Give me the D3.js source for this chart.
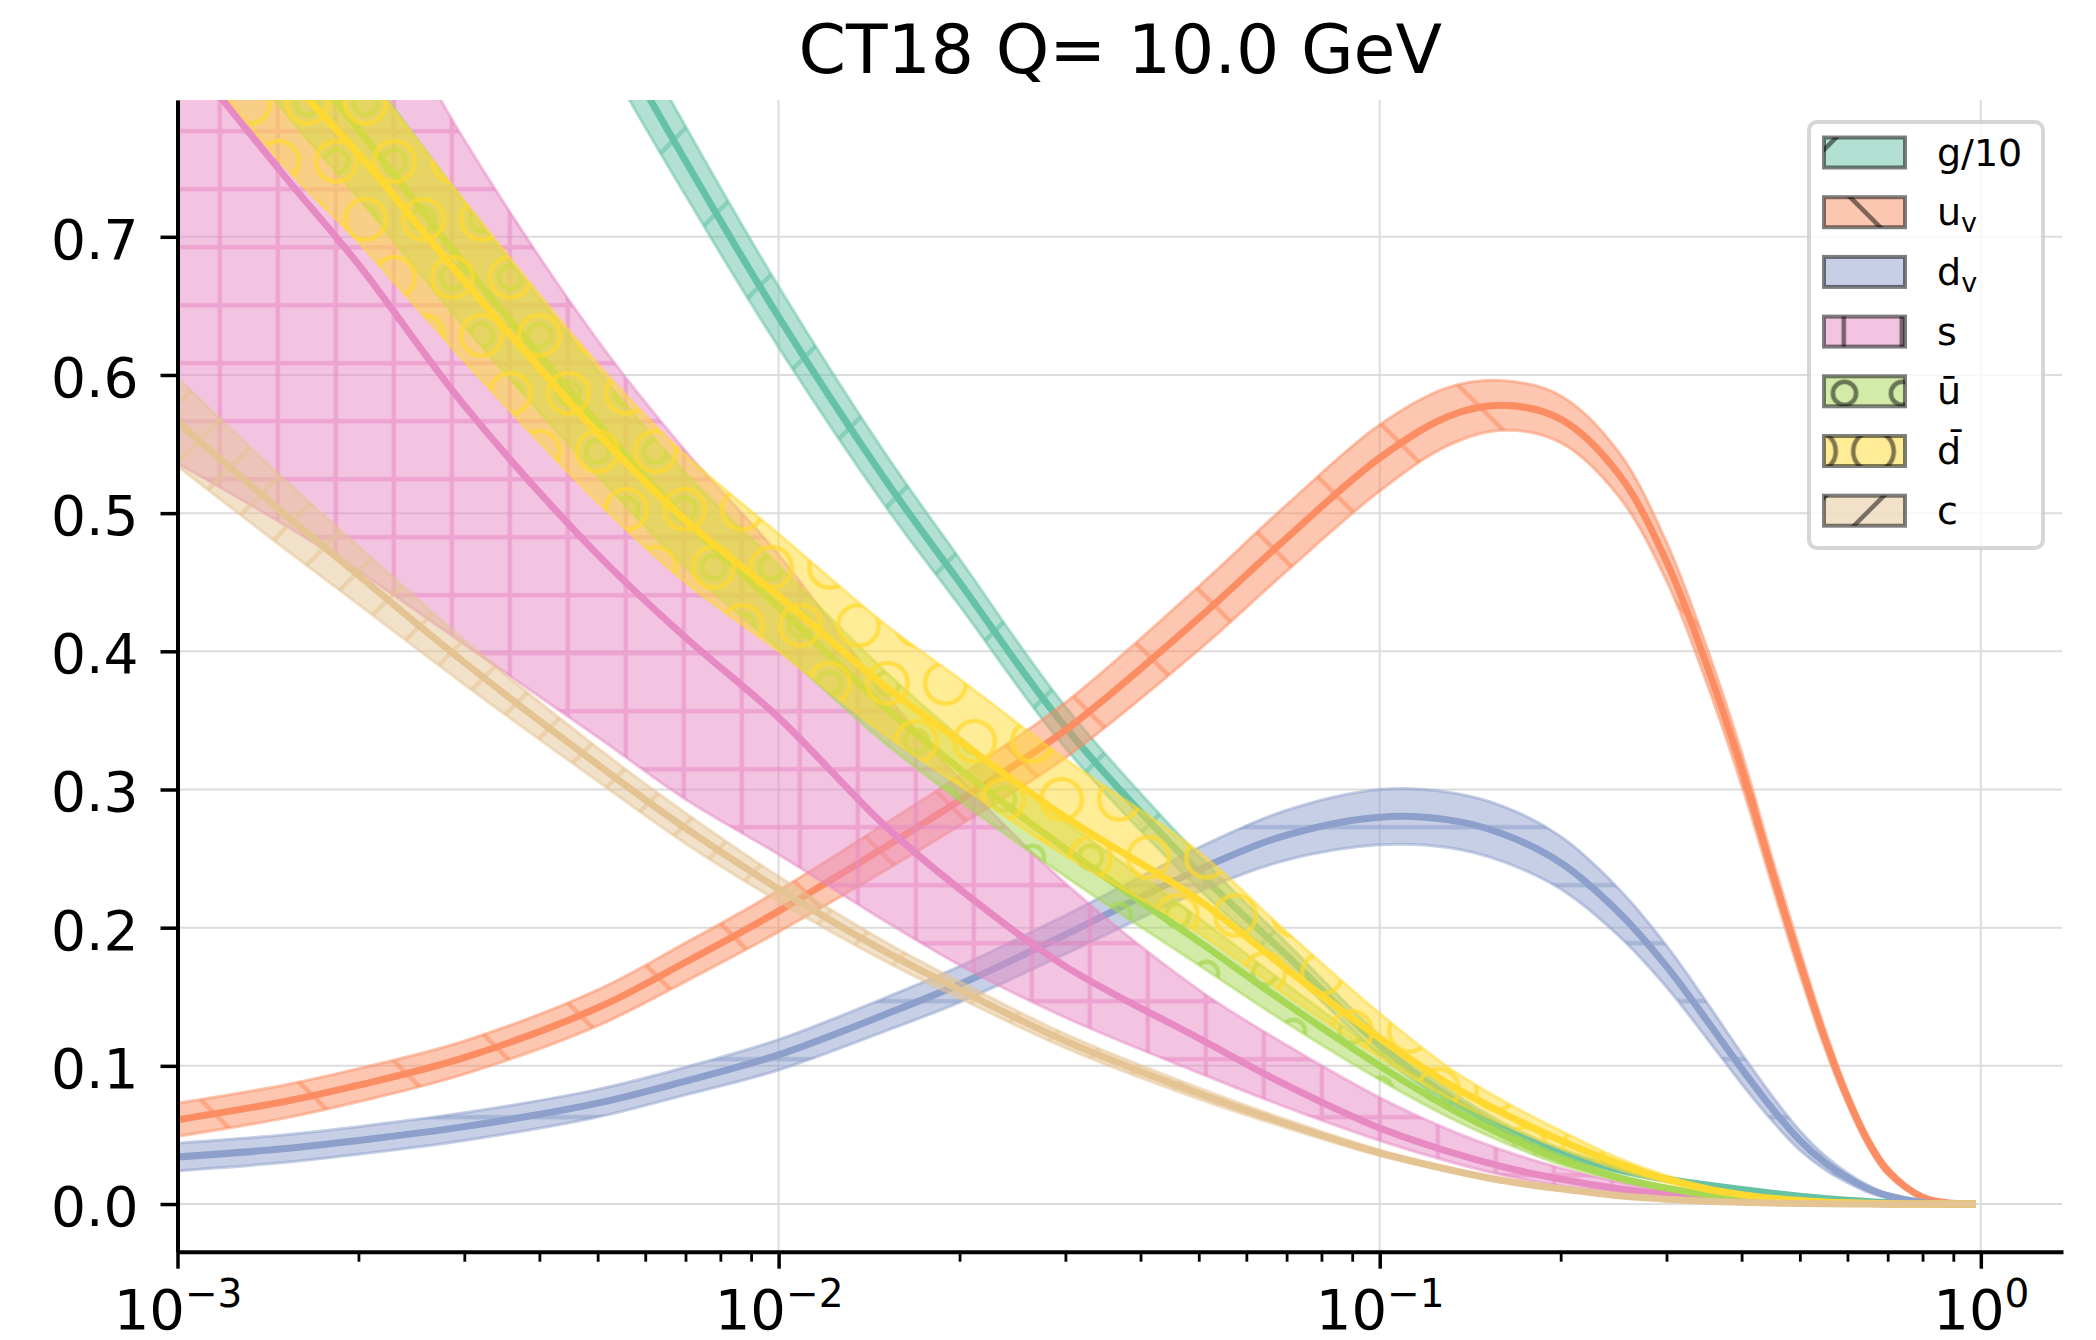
<!DOCTYPE html>
<html>
<head>
<meta charset="utf-8">
<script src="https://cdn.jsdelivr.net/npm/d3@7"></script>
<style>
  body { margin: 0; background: #ffffff; }
  text { font-family: 'DejaVu Sans', sans-serif; }
</style>
</head>
<body>
<div id="chart"></div>
<script>
// x grid shared by every curve
var xs = [0.001, 0.0015, 0.002, 0.003, 0.005, 0.007, 0.01, 0.015, 0.02, 0.03, 0.05, 0.07, 0.1, 0.13, 0.16,
          0.2, 0.25, 0.3, 0.35, 0.4, 0.45, 0.5, 0.55, 0.6, 0.65, 0.7, 0.8, 0.9, 0.98];

// g/10
var g10_mid = [1.43, 1.31, 1.228, 1.062, 0.868, 0.755, 0.642, 0.525, 0.45, 0.345, 0.24, 0.18, 0.115, 0.078, 0.055,
               0.037, 0.025, 0.018, 0.0138, 0.0105, 0.0078, 0.0057, 0.004, 0.0027, 0.0018, 0.0011, 0.0003, 0.00004, 0];
var g10_lo = [1.385, 1.27, 1.192, 1.03, 0.84, 0.73, 0.62, 0.506, 0.433, 0.33, 0.228, 0.171, 0.108, 0.073, 0.051,
              0.034, 0.023, 0.0165, 0.0128, 0.0097, 0.0072, 0.0052, 0.0036, 0.0024, 0.0016, 0.001, 0.0003, 0.00004, 0];
var g10_hi = [1.475, 1.35, 1.264, 1.094, 0.896, 0.78, 0.664, 0.544, 0.467, 0.36, 0.252, 0.189, 0.122, 0.083, 0.059,
              0.04, 0.027, 0.0195, 0.0148, 0.0113, 0.0084, 0.0062, 0.0044, 0.003, 0.002, 0.0012, 0.0003, 0.00004, 0];

// u valence
var uv_mid = [0.061, 0.074, 0.086, 0.106, 0.142, 0.175, 0.212, 0.258, 0.292, 0.343, 0.424, 0.482, 0.540, 0.570, 0.578,
              0.568, 0.528, 0.465, 0.39, 0.315, 0.24, 0.175, 0.12, 0.077, 0.045, 0.024, 0.005, 0.0005, 0];
var uv_lo = [0.049, 0.062, 0.074, 0.094, 0.129, 0.161, 0.197, 0.241, 0.274, 0.323, 0.401, 0.458, 0.516, 0.549, 0.56,
             0.551, 0.512, 0.451, 0.377, 0.303, 0.23, 0.166, 0.113, 0.072, 0.041, 0.021, 0.004, 0.0003, 0];
var uv_hi = [0.073, 0.086, 0.098, 0.118, 0.155, 0.189, 0.227, 0.275, 0.31, 0.363, 0.447, 0.506, 0.564, 0.591, 0.596,
             0.585, 0.544, 0.479, 0.403, 0.327, 0.25, 0.184, 0.127, 0.082, 0.049, 0.027, 0.006, 0.0007, 0];

// d valence
var dv_mid = [0.034, 0.040, 0.046, 0.056, 0.073, 0.089, 0.108, 0.137, 0.159, 0.195, 0.242, 0.267, 0.280, 0.278, 0.268,
              0.247, 0.211, 0.172, 0.133, 0.098, 0.069, 0.046, 0.03, 0.019, 0.011, 0.006, 0.0012, 0.0001, 0];
var dv_lo = [0.024, 0.03, 0.036, 0.046, 0.063, 0.079, 0.097, 0.125, 0.146, 0.181, 0.226, 0.249, 0.26, 0.258, 0.248,
             0.228, 0.194, 0.157, 0.12, 0.087, 0.06, 0.039, 0.025, 0.0155, 0.0085, 0.0045, 0.0007, 0, 0];
var dv_hi = [0.044, 0.05, 0.056, 0.066, 0.083, 0.099, 0.119, 0.149, 0.172, 0.209, 0.258, 0.285, 0.3, 0.298, 0.288,
             0.266, 0.228, 0.187, 0.146, 0.109, 0.078, 0.053, 0.035, 0.0225, 0.0135, 0.0075, 0.0017, 0.0002, 0];

// strange
var s_mid = [0.84, 0.745, 0.68, 0.578, 0.47, 0.41, 0.352, 0.274, 0.228, 0.172, 0.12, 0.086, 0.055, 0.038, 0.027,
             0.018, 0.011, 0.007, 0.0045, 0.003, 0.002, 0.0012, 0.0008, 0.0005, 0.0003, 0.0001, 0, 0, 0];
var s_lo = [0.536, 0.492, 0.458, 0.405, 0.338, 0.293, 0.253, 0.205, 0.173, 0.135, 0.095, 0.07, 0.046, 0.031, 0.021,
            0.013, 0.008, 0.005, 0.003, 0.002, 0.0013, 0.0008, 0.0005, 0.0003, 0.0002, 0.0001, 0, 0, 0];
var s_hi = [1.12, 0.99, 0.905, 0.77, 0.625, 0.545, 0.47, 0.37, 0.308, 0.232, 0.155, 0.115, 0.077, 0.054, 0.039,
            0.026, 0.016, 0.01, 0.0065, 0.0043, 0.003, 0.0018, 0.0012, 0.0007, 0.0004, 0.0002, 0.00005, 0, 0];

// u bar
var ubar_mid = [0.95, 0.845, 0.778, 0.68, 0.565, 0.495, 0.432, 0.36, 0.315, 0.257, 0.19, 0.145, 0.1, 0.07, 0.05,
                0.032, 0.019, 0.0115, 0.0068, 0.004, 0.0024, 0.0014, 0.0008, 0.0005, 0.0003, 0.00015, 0.00002, 0, 0];
var ubar_lo = [0.89, 0.791, 0.728, 0.635, 0.527, 0.461, 0.402, 0.334, 0.292, 0.237, 0.173, 0.131, 0.09, 0.063, 0.045,
               0.0285, 0.017, 0.0102, 0.006, 0.0035, 0.0021, 0.0012, 0.0007, 0.0005, 0.0003, 0.00015, 0.00002, 0, 0];
var ubar_hi = [1.01, 0.899, 0.828, 0.725, 0.603, 0.529, 0.462, 0.386, 0.338, 0.277, 0.207, 0.159, 0.11, 0.077, 0.055,
               0.0355, 0.021, 0.0128, 0.0076, 0.0045, 0.0027, 0.0016, 0.0009, 0.0005, 0.0003, 0.00015, 0.00002, 0, 0];

// d bar
var dbar_mid = [0.92, 0.82, 0.76, 0.668, 0.558, 0.495, 0.44, 0.375, 0.335, 0.28, 0.22, 0.17, 0.12, 0.087, 0.066,
                0.046, 0.029, 0.018, 0.011, 0.0068, 0.0042, 0.0025, 0.0015, 0.0009, 0.0005, 0.0002, 0.00003, 0, 0];
var dbar_lo = [0.845, 0.752, 0.696, 0.61, 0.508, 0.45, 0.4, 0.34, 0.303, 0.252, 0.196, 0.151, 0.106, 0.077, 0.058,
               0.04, 0.025, 0.0155, 0.0093, 0.0057, 0.0035, 0.0021, 0.0012, 0.0007, 0.0004, 0.0002, 0.00003, 0, 0];
var dbar_hi = [0.995, 0.888, 0.824, 0.726, 0.608, 0.542, 0.485, 0.42, 0.38, 0.322, 0.255, 0.197, 0.138, 0.099, 0.075,
               0.053, 0.033, 0.0205, 0.0127, 0.0079, 0.0049, 0.0029, 0.0018, 0.0011, 0.0006, 0.0002, 0.00003, 0, 0];

// charm
var c_mid = [0.566, 0.5, 0.455, 0.392, 0.318, 0.272, 0.228, 0.183, 0.155, 0.118, 0.08, 0.058, 0.037, 0.025, 0.017,
             0.011, 0.006, 0.0035, 0.002, 0.0012, 0.0007, 0.0004, 0.0002, 0.0001, 0, 0, 0, 0, 0];
var c_lo = [0.534, 0.475, 0.434, 0.376, 0.306, 0.261, 0.219, 0.176, 0.149, 0.113, 0.076, 0.055, 0.035, 0.0235, 0.016,
            0.0102, 0.0055, 0.0032, 0.0018, 0.0011, 0.0007, 0.0004, 0.0002, 0.0001, 0, 0, 0, 0, 0];
var c_hi = [0.598, 0.525, 0.476, 0.408, 0.33, 0.283, 0.237, 0.19, 0.161, 0.123, 0.084, 0.061, 0.039, 0.0265, 0.018,
            0.0118, 0.0065, 0.0038, 0.0022, 0.0013, 0.0007, 0.0004, 0.0002, 0.0001, 0, 0, 0, 0, 0];

var series_keys = ['g10', 'uv', 'dv', 's', 'ubar', 'dbar', 'c'];
var series_colors = ['#66c2a5', '#fc8d62', '#8da0cb', '#e78ac3', '#a6d854', '#ffd92f', '#e5c494'];
var series_hatches = ['ne', 'nw', 'h', 'plus', 'osmall', 'olarge', 'ne2'];

var x_ticks = [0.001, 0.01, 0.1, 1];
var x_exponents = ['\u22123', '\u22122', '\u22121', '0'];
var y_ticks = [0, 0.1, 0.2, 0.3, 0.4, 0.5, 0.6, 0.7];

var chart_width = 2096;
var chart_height = 1340;
var plot_left = 177.5, plot_right = 2063, plot_top = 100, plot_bottom = 1251.7;

var x_scale = d3.scaleLog()
                .domain([0.001, 1.37])
                .range([plot_left, plot_right]);

var y_scale = d3.scaleLinear()
                .domain([-0.0345, 0.799])
                .range([plot_bottom, plot_top]);

var svg = d3.select('#chart')
            .append('svg')
            .attr('width', chart_width)
            .attr('height', chart_height);

svg.append('rect')
   .attr('width', chart_width)
   .attr('height', chart_height)
   .attr('fill', '#ffffff');

var defs = svg.append('defs');

defs.append('clipPath')
    .attr('id', 'plot-clip')
    .append('rect')
    .attr('x', plot_left)
    .attr('y', plot_top)
    .attr('width', plot_right - plot_left)
    .attr('height', plot_bottom - plot_top);

// hatch patterns are tiled from the page origin, like matplotlib does
function makePattern(id, kind, color, opacity) {
  var p = defs.append('pattern')
              .attr('id', id)
              .attr('patternUnits', 'userSpaceOnUse');
  var sw = 4.5;
  var add = function(d) {
    p.append('path').attr('d', d)
     .attr('fill', 'none')
     .attr('stroke', color)
     .attr('stroke-opacity', opacity)
     .attr('stroke-width', sw);
  };
  if (kind === 'ne') {
    p.attr('width', 116).attr('height', 116);
    add('M-10,11.7L11.7,-10M-5,122.7L122.7,-5M110,123.7L123.7,110');
  } else if (kind === 'ne2') {
    p.attr('width', 58).attr('height', 58);
    add('M-10,11.7L11.7,-10M-5,64.7L64.7,-5M50,67.7L67.7,50');
  } else if (kind === 'nw') {
    p.attr('width', 116).attr('height', 116);
    add('M-10,77L39,126M19,-10L126,97');
  } else if (kind === 'h') {
    p.attr('width', 58).attr('height', 58).attr('y', 15.2 - 29);
    add('M-5,29L63,29');
  } else if (kind === 'plus') {
    p.attr('width', 58).attr('height', 58).attr('x', 45.8 - 29).attr('y', 15.2 - 29);
    add('M-5,29L63,29M29,-5L29,63');
  } else {
    var r = kind === 'osmall' ? 11.6 : 20.3;
    p.attr('width', 58).attr('height', 116).attr('x', 17.5).attr('y', 103.3);
    [[0, 0], [58, 0], [0, 116], [58, 116], [29, 58]].forEach(function(c) {
      p.append('circle')
       .attr('cx', c[0]).attr('cy', c[1]).attr('r', r)
       .attr('fill', 'none')
       .attr('stroke', color)
       .attr('stroke-opacity', opacity)
       .attr('stroke-width', sw);
    });
  }
}

series_keys.forEach(function(k, i) {
  var op = (series_hatches[i] === 'osmall' || series_hatches[i] === 'olarge') ? 0.75 : 0.55;
  makePattern('hatch-' + k, series_hatches[i], series_colors[i], op);
  makePattern('legend-hatch-' + k, series_hatches[i], '#000000', 0.5);
});

// Grid lines
var grid = svg.append('g');
grid.selectAll('.hgrid')
    .data(y_ticks)
    .enter()
    .append('line')
    .attr('x1', plot_left)
    .attr('x2', plot_right - 1)
    .attr('y1', function(d) { return y_scale(d); })
    .attr('y2', function(d) { return y_scale(d); })
    .attr('stroke', '#dcdcdc')
    .attr('stroke-width', 2);
grid.selectAll('.vgrid')
    .data(x_ticks)
    .enter()
    .append('line')
    .attr('x1', function(d) { return x_scale(d); })
    .attr('x2', function(d) { return x_scale(d); })
    .attr('y1', plot_top)
    .attr('y2', plot_bottom)
    .attr('stroke', '#dcdcdc')
    .attr('stroke-width', 2);

// Bands and central lines, one series after the other
var data_by_key = {
  g10: [g10_mid, g10_lo, g10_hi],
  uv: [uv_mid, uv_lo, uv_hi],
  dv: [dv_mid, dv_lo, dv_hi],
  s: [s_mid, s_lo, s_hi],
  ubar: [ubar_mid, ubar_lo, ubar_hi],
  dbar: [dbar_mid, dbar_lo, dbar_hi],
  c: [c_mid, c_lo, c_hi]
};

var plot = svg.append('g').attr('clip-path', 'url(#plot-clip)');

var curve = d3.curveCatmullRom.alpha(0.5);

var area = d3.area()
             .x(function(d) { return x_scale(d.x); })
             .y0(function(d) { return y_scale(d.lo); })
             .y1(function(d) { return y_scale(d.hi); })
             .curve(curve);

var line = d3.line()
             .x(function(d) { return x_scale(d.x); })
             .y(function(d) { return y_scale(d.mid); })
             .curve(curve);

series_keys.forEach(function(k, i) {
  var arr = data_by_key[k];
  var pts = xs.map(function(x, j) {
    return { x: x, mid: arr[0][j], lo: arr[1][j], hi: arr[2][j] };
  });
  var color = series_colors[i];
  plot.append('path')
      .attr('d', area(pts))
      .attr('fill', color)
      .attr('fill-opacity', 0.5);
  plot.append('path')
      .attr('d', area(pts))
      .attr('fill', 'url(#hatch-' + k + ')');
  plot.append('path')
      .attr('d', area(pts))
      .attr('fill', 'none')
      .attr('stroke', color)
      .attr('stroke-opacity', 0.5)
      .attr('stroke-width', 3);
  plot.append('path')
      .attr('d', line(pts))
      .attr('fill', 'none')
      .attr('stroke', color)
      .attr('stroke-width', 7);
});

// Axes
var y_axis = svg.append('g')
                .attr('transform', 'translate(' + plot_left + ',0)')
                .call(d3.axisLeft(y_scale)
                        .tickValues(y_ticks)
                        .tickSize(17)
                        .tickSizeOuter(0)
                        .tickPadding(22)
                        .tickFormat(d3.format('.1f')));
y_axis.select('.domain').attr('stroke-width', 4);
y_axis.selectAll('.tick line').attr('stroke-width', 3.5);
y_axis.selectAll('.tick text')
      .attr('dy', '0.39em')
      .style('font-size', '55px')
      .attr('fill', '#000');

var minor_ticks = [];
[0.001, 0.01, 0.1].forEach(function(d) {
  for (var m = 2; m < 10; m++) minor_ticks.push(d * m);
});

var x_minor = svg.append('g')
                 .attr('transform', 'translate(0,' + plot_bottom + ')')
                 .call(d3.axisBottom(x_scale)
                         .tickValues(minor_ticks)
                         .tickSize(10)
                         .tickSizeOuter(0)
                         .tickFormat(''));
x_minor.select('.domain').remove();
x_minor.selectAll('.tick line').attr('stroke-width', 2.8);

var x_axis = svg.append('g')
                .attr('transform', 'translate(0,' + plot_bottom + ')')
                .call(d3.axisBottom(x_scale)
                        .tickValues(x_ticks)
                        .tickSize(17)
                        .tickSizeOuter(0)
                        .tickFormat(''));
x_axis.select('.domain').attr('stroke-width', 4);
x_axis.selectAll('.tick line').attr('stroke-width', 3.5);
x_axis.selectAll('.tick text').remove();
x_axis.selectAll('.tick')
      .append('text')
      .attr('y', 77)
      .attr('text-anchor', 'middle')
      .attr('fill', '#000')
      .style('font-size', '56px')
      .each(function(d, i) {
        var t = d3.select(this);
        t.append('tspan').text('10');
        t.append('tspan')
         .attr('dy', -22)
         .style('font-size', '39px')
         .text(x_exponents[i]);
      });

// Title
svg.append('text')
   .attr('x', (plot_left + plot_right) / 2)
   .attr('y', 73)
   .attr('text-anchor', 'middle')
   .style('font-size', '68px')
   .attr('fill', '#000')
   .text('CT18 Q= 10.0 GeV');

// Legend (rows placed in page coordinates so the hatch tiles line up)
var legend = svg.append('g');
legend.append('rect')
      .attr('x', 1809)
      .attr('y', 122)
      .attr('width', 234)
      .attr('height', 426)
      .attr('rx', 8)
      .attr('fill', '#ffffff')
      .attr('fill-opacity', 0.8)
      .attr('stroke', '#cccccc')
      .attr('stroke-opacity', 0.8)
      .attr('stroke-width', 4);

function rowY(i) { return 152.5 + i * 59.7; }

legend.selectAll('.swatch')
      .data(series_keys)
      .enter()
      .append('rect')
      .attr('x', 1824)
      .attr('y', function(d, i) { return rowY(i) - 15; })
      .attr('width', 81).attr('height', 30)
      .attr('fill', function(d, i) { return series_colors[i]; })
      .attr('fill-opacity', 0.5);

legend.selectAll('.swatch-hatch')
      .data(series_keys)
      .enter()
      .append('rect')
      .attr('x', 1824)
      .attr('y', function(d, i) { return rowY(i) - 15; })
      .attr('width', 81).attr('height', 30)
      .attr('fill', function(d) { return 'url(#legend-hatch-' + d + ')'; })
      .attr('stroke', '#000')
      .attr('stroke-opacity', 0.5)
      .attr('stroke-width', 4);

legend.selectAll('.label')
      .data(series_keys)
      .enter()
      .append('text')
      .attr('x', 1937)
      .attr('y', function(d, i) { return rowY(i) + 13; })
      .attr('fill', '#000')
      .style('font-size', '38px')
      .each(function(d) {
        var t = d3.select(this);
        if (d === 'g10') t.text('g/10');
        else if (d === 'uv' || d === 'dv') {
          t.append('tspan').text(d === 'uv' ? 'u' : 'd');
          t.append('tspan').attr('dy', 7).style('font-size', '27px').text('v');
        }
        else if (d === 's') t.text('s');
        else if (d === 'ubar') t.text('\u016B');
        else if (d === 'dbar') t.text('d\u0304');
        else t.text('c');
      });
</script>
</body>
</html>
